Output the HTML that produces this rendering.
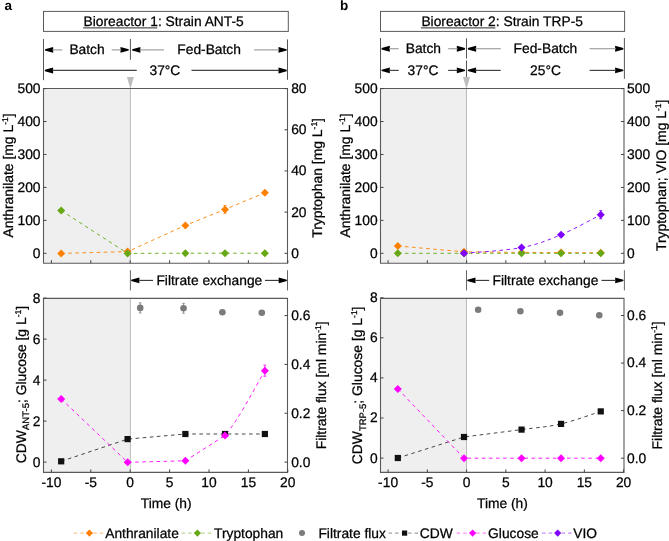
<!DOCTYPE html>
<html><head><meta charset="utf-8"><style>
html,body{margin:0;padding:0;background:#fff;width:669px;height:541px;overflow:hidden}
svg{display:block;will-change:transform}
text{font-family:"Liberation Sans",sans-serif;text-rendering:geometricPrecision;stroke:#000;stroke-width:0.25px;fill:#000}
</style></head><body>
<svg width="669" height="541" viewBox="0 0 669 541" font-family="Liberation Sans, sans-serif">
<rect width="669" height="541" fill="#fff"/>
<text x="4.5" y="10.4" font-size="13.5" text-anchor="start" fill="#111" font-weight="bold" style="stroke:none">a</text>
<rect x="43.5" y="11.4" width="244.8" height="20.0" fill="none" stroke="#5a5a5a" stroke-width="1"/>
<text x="83.5" y="25.8" font-size="13.8" text-anchor="start" fill="#111" >Bioreactor 1: Strain ANT-5</text>
<line x1="83.1" y1="27.9" x2="157.3" y2="27.9" stroke="#555" stroke-width="1.3" />
<line x1="43.5" y1="39.0" x2="43.5" y2="80.2" stroke="#555" stroke-width="1" />
<line x1="287.5" y1="39.4" x2="287.5" y2="79.8" stroke="#555" stroke-width="1" />
<line x1="130.4" y1="39" x2="130.4" y2="59.8" stroke="#555" stroke-width="1" />
<path d="M45.0,49.199999999999996 L53.2,46.949999999999996 L53.2,52.85 L45.0,50.6 Z" fill="#000"/>
<path d="M128.7,49.199999999999996 L120.49999999999999,46.949999999999996 L120.49999999999999,52.85 L128.7,50.6 Z" fill="#000"/>
<line x1="52.5" y1="49.9" x2="62.4" y2="49.9" stroke="#a0a0a0" stroke-width="1.2" />
<line x1="111.7" y1="49.9" x2="121.19999999999999" y2="49.9" stroke="#a0a0a0" stroke-width="1.2" />
<text x="69.4" y="54.2" font-size="13.8" text-anchor="start" fill="#111" >Batch</text>
<path d="M132.2,49.199999999999996 L140.39999999999998,46.949999999999996 L140.39999999999998,52.85 L132.2,50.6 Z" fill="#000"/>
<path d="M286.7,49.199999999999996 L278.5,46.949999999999996 L278.5,52.85 L286.7,50.6 Z" fill="#000"/>
<line x1="139.7" y1="49.9" x2="163.9" y2="49.9" stroke="#a0a0a0" stroke-width="1.2" />
<line x1="254.1" y1="49.9" x2="279.2" y2="49.9" stroke="#a0a0a0" stroke-width="1.2" />
<text x="177.3" y="54.2" font-size="13.8" text-anchor="start" fill="#111" >Fed-Batch</text>
<path d="M44.9,69.75 L53.099999999999994,67.5 L53.099999999999994,73.4 L44.9,71.15 Z" fill="#000"/>
<path d="M286.7,69.75 L278.5,67.5 L278.5,73.4 L286.7,71.15 Z" fill="#000"/>
<line x1="52.4" y1="70.45" x2="136.7" y2="70.45" stroke="#444" stroke-width="1.2" />
<line x1="191.5" y1="70.45" x2="279.2" y2="70.45" stroke="#444" stroke-width="1.2" />
<text x="149.5" y="74.5" font-size="13.8" text-anchor="start" fill="#111" >37°C</text>
<path d="M126.9,77.0 L133.9,77.0 L130.4,89.0 Z" fill="#bdbdbd"/>
<rect x="43.5" y="88.5" width="86.9" height="174.7" fill="#efefef"/>
<line x1="130.4" y1="88.5" x2="130.4" y2="263.2" stroke="#bbb" stroke-width="1" />
<path d="M43.5,88.5 L287.5,88.5 L287.5,263.2 L43.5,263.2 Z" fill="none" stroke="#5a5a5a" stroke-width="1.1"/>
<line x1="43.5" y1="253.3" x2="46.5" y2="253.3" stroke="#444" stroke-width="1" />
<text x="40.5" y="257.7" font-size="13.8" text-anchor="end" fill="#111" >0</text>
<line x1="43.5" y1="220.36" x2="46.5" y2="220.36" stroke="#444" stroke-width="1" />
<text x="40.5" y="224.76000000000002" font-size="13.8" text-anchor="end" fill="#111" >100</text>
<line x1="43.5" y1="187.42000000000002" x2="46.5" y2="187.42000000000002" stroke="#444" stroke-width="1" />
<text x="40.5" y="191.82000000000002" font-size="13.8" text-anchor="end" fill="#111" >200</text>
<line x1="43.5" y1="154.48000000000002" x2="46.5" y2="154.48000000000002" stroke="#444" stroke-width="1" />
<text x="40.5" y="158.88000000000002" font-size="13.8" text-anchor="end" fill="#111" >300</text>
<line x1="43.5" y1="121.53999999999999" x2="46.5" y2="121.53999999999999" stroke="#444" stroke-width="1" />
<text x="40.5" y="125.94" font-size="13.8" text-anchor="end" fill="#111" >400</text>
<line x1="43.5" y1="88.6" x2="46.5" y2="88.6" stroke="#444" stroke-width="1" />
<text x="40.5" y="93.0" font-size="13.8" text-anchor="end" fill="#111" >500</text>
<line x1="284.5" y1="253.3" x2="287.5" y2="253.3" stroke="#444" stroke-width="1" />
<text x="291.2" y="257.7" font-size="13.8" text-anchor="start" fill="#111" >0</text>
<line x1="284.5" y1="212.125" x2="287.5" y2="212.125" stroke="#444" stroke-width="1" />
<text x="291.2" y="216.525" font-size="13.8" text-anchor="start" fill="#111" >20</text>
<line x1="284.5" y1="170.95" x2="287.5" y2="170.95" stroke="#444" stroke-width="1" />
<text x="291.2" y="175.35" font-size="13.8" text-anchor="start" fill="#111" >40</text>
<line x1="284.5" y1="129.775" x2="287.5" y2="129.775" stroke="#444" stroke-width="1" />
<text x="291.2" y="134.175" font-size="13.8" text-anchor="start" fill="#111" >60</text>
<line x1="284.5" y1="88.6" x2="287.5" y2="88.6" stroke="#444" stroke-width="1" />
<text x="291.2" y="93.0" font-size="13.8" text-anchor="start" fill="#111" >80</text>
<line x1="51.39999999999999" y1="263.2" x2="51.39999999999999" y2="260.2" stroke="#444" stroke-width="1" />
<line x1="90.79999999999998" y1="263.2" x2="90.79999999999998" y2="260.2" stroke="#444" stroke-width="1" />
<line x1="130.2" y1="263.2" x2="130.2" y2="260.2" stroke="#444" stroke-width="1" />
<line x1="169.6" y1="263.2" x2="169.6" y2="260.2" stroke="#444" stroke-width="1" />
<line x1="209.0" y1="263.2" x2="209.0" y2="260.2" stroke="#444" stroke-width="1" />
<line x1="248.39999999999998" y1="263.2" x2="248.39999999999998" y2="260.2" stroke="#444" stroke-width="1" />
<line x1="287.79999999999995" y1="263.2" x2="287.79999999999995" y2="260.2" stroke="#444" stroke-width="1" />
<text transform="translate(13.3,237.6) rotate(-90)" font-size="13.9" fill="#111">Anthranilate [mg L<tspan dy="-5" font-size="8.5">-1</tspan><tspan dy="5">]</tspan></text>
<text transform="translate(322.2,237.8) rotate(-90)" font-size="13.9" fill="#111">Tryptophan [mg L<tspan dy="-5" font-size="8.5">-1</tspan><tspan dy="5">]</tspan></text>
<path d="M61.17,210.50 L127.60,253.40 L185.36,253.20 L225.00,253.20 L264.87,253.20" fill="none" stroke="#66a815" stroke-width="0.9" stroke-dasharray="3.6,3.5"/>
<path d="M61.17,253.40 L127.60,251.60 L185.36,225.40 L225.00,209.40 L264.87,192.80" fill="none" stroke="#ff8000" stroke-width="0.9" stroke-dasharray="3.6,3.5"/>
<path d="M61.171199999999985,249.4 L65.17119999999998,253.4 L61.171199999999985,257.4 L57.171199999999985,253.4 Z" fill="#ff8000"/>
<path d="M127.5996,247.6 L131.5996,251.6 L127.5996,255.6 L123.5996,251.6 Z" fill="#ff8000"/>
<path d="M185.35999999999999,221.4 L189.35999999999999,225.4 L185.35999999999999,229.4 L181.35999999999999,225.4 Z" fill="#ff8000"/>
<path d="M224.9964,205.4 L228.9964,209.4 L224.9964,213.4 L220.9964,209.4 Z" fill="#ff8000"/>
<path d="M264.8692,188.8 L268.8692,192.8 L264.8692,196.8 L260.8692,192.8 Z" fill="#ff8000"/>
<line x1="224.9964" y1="205.5" x2="224.9964" y2="213.3" stroke="#ff8000" stroke-width="0.8" />
<line x1="223.4964" y1="205.5" x2="226.4964" y2="205.5" stroke="#ff8000" stroke-width="0.8" />
<line x1="223.4964" y1="213.3" x2="226.4964" y2="213.3" stroke="#ff8000" stroke-width="0.8" />
<path d="M61.171199999999985,206.5 L65.17119999999998,210.5 L61.171199999999985,214.5 L57.171199999999985,210.5 Z" fill="#66a815"/>
<path d="M127.5996,249.4 L131.5996,253.4 L127.5996,257.4 L123.5996,253.4 Z" fill="#66a815"/>
<path d="M185.35999999999999,249.2 L189.35999999999999,253.2 L185.35999999999999,257.2 L181.35999999999999,253.2 Z" fill="#66a815"/>
<path d="M224.9964,249.2 L228.9964,253.2 L224.9964,257.2 L220.9964,253.2 Z" fill="#66a815"/>
<path d="M264.8692,249.2 L268.8692,253.2 L264.8692,257.2 L260.8692,253.2 Z" fill="#66a815"/>
<line x1="130.4" y1="270.2" x2="130.4" y2="290.4" stroke="#666" stroke-width="1" />
<line x1="287.5" y1="270.2" x2="287.5" y2="290.4" stroke="#666" stroke-width="1" />
<path d="M131.20000000000002,279.7 L139.4,277.45 L139.4,283.34999999999997 L131.20000000000002,281.09999999999997 Z" fill="#000"/>
<path d="M286.9,279.7 L278.7,277.45 L278.7,283.34999999999997 L286.9,281.09999999999997 Z" fill="#000"/>
<line x1="139.4" y1="280.4" x2="153.1" y2="280.4" stroke="#333" stroke-width="1.1" />
<line x1="265.0" y1="280.4" x2="279.0" y2="280.4" stroke="#333" stroke-width="1.1" />
<text x="156.4" y="285.0" font-size="13.8" text-anchor="start" fill="#111" >Filtrate exchange</text>
<rect x="43.5" y="298.4" width="86.9" height="174.0" fill="#efefef"/>
<line x1="130.4" y1="298.4" x2="130.4" y2="472.4" stroke="#bbb" stroke-width="1" />
<path d="M43.5,298.4 L287.5,298.4 L287.5,472.4 L43.5,472.4 Z" fill="none" stroke="#5a5a5a" stroke-width="1.1"/>
<line x1="43.5" y1="462.1" x2="46.5" y2="462.1" stroke="#444" stroke-width="1" />
<text x="40.5" y="466.5" font-size="13.8" text-anchor="end" fill="#111" >0</text>
<line x1="43.5" y1="421.1" x2="46.5" y2="421.1" stroke="#444" stroke-width="1" />
<text x="40.5" y="425.5" font-size="13.8" text-anchor="end" fill="#111" >2</text>
<line x1="43.5" y1="380.1" x2="46.5" y2="380.1" stroke="#444" stroke-width="1" />
<text x="40.5" y="384.5" font-size="13.8" text-anchor="end" fill="#111" >4</text>
<line x1="43.5" y1="339.1" x2="46.5" y2="339.1" stroke="#444" stroke-width="1" />
<text x="40.5" y="343.5" font-size="13.8" text-anchor="end" fill="#111" >6</text>
<line x1="43.5" y1="298.1" x2="46.5" y2="298.1" stroke="#444" stroke-width="1" />
<text x="40.5" y="302.5" font-size="13.8" text-anchor="end" fill="#111" >8</text>
<line x1="284.5" y1="462.1" x2="287.5" y2="462.1" stroke="#444" stroke-width="1" />
<text x="291.2" y="466.5" font-size="13.8" text-anchor="start" fill="#111" >0.0</text>
<line x1="284.5" y1="413.26" x2="287.5" y2="413.26" stroke="#444" stroke-width="1" />
<text x="291.2" y="417.65999999999997" font-size="13.8" text-anchor="start" fill="#111" >0.2</text>
<line x1="284.5" y1="364.42" x2="287.5" y2="364.42" stroke="#444" stroke-width="1" />
<text x="291.2" y="368.82" font-size="13.8" text-anchor="start" fill="#111" >0.4</text>
<line x1="284.5" y1="315.58000000000004" x2="287.5" y2="315.58000000000004" stroke="#444" stroke-width="1" />
<text x="291.2" y="319.98" font-size="13.8" text-anchor="start" fill="#111" >0.6</text>
<line x1="51.39999999999999" y1="472.4" x2="51.39999999999999" y2="469.4" stroke="#444" stroke-width="1" />
<text x="51.39999999999999" y="486.8" font-size="13.8" text-anchor="middle" fill="#111" >-10</text>
<line x1="90.79999999999998" y1="472.4" x2="90.79999999999998" y2="469.4" stroke="#444" stroke-width="1" />
<text x="90.79999999999998" y="486.8" font-size="13.8" text-anchor="middle" fill="#111" >-5</text>
<line x1="130.2" y1="472.4" x2="130.2" y2="469.4" stroke="#444" stroke-width="1" />
<text x="130.2" y="486.8" font-size="13.8" text-anchor="middle" fill="#111" >0</text>
<line x1="169.6" y1="472.4" x2="169.6" y2="469.4" stroke="#444" stroke-width="1" />
<text x="169.6" y="486.8" font-size="13.8" text-anchor="middle" fill="#111" >5</text>
<line x1="209.0" y1="472.4" x2="209.0" y2="469.4" stroke="#444" stroke-width="1" />
<text x="209.0" y="486.8" font-size="13.8" text-anchor="middle" fill="#111" >10</text>
<line x1="248.39999999999998" y1="472.4" x2="248.39999999999998" y2="469.4" stroke="#444" stroke-width="1" />
<text x="248.39999999999998" y="486.8" font-size="13.8" text-anchor="middle" fill="#111" >15</text>
<line x1="287.79999999999995" y1="472.4" x2="287.79999999999995" y2="469.4" stroke="#444" stroke-width="1" />
<text x="287.79999999999995" y="486.8" font-size="13.8" text-anchor="middle" fill="#111" >20</text>
<text x="166.16" y="507.6" font-size="13.8" text-anchor="middle" fill="#111" >Time (h)</text>
<text transform="translate(25.9,463.2) rotate(-90)" font-size="13.9" fill="#111">CDW<tspan dy="3.5" font-size="9.5">ANT-5</tspan><tspan dy="-3.5">; Glucose [g L</tspan><tspan dy="-5" font-size="8.5">-1</tspan><tspan dy="5">]</tspan></text>
<text transform="translate(325.6,449.3) rotate(-90)" font-size="13.9" fill="#111">Filtrate flux [ml min<tspan dy="-5" font-size="8.5">-1</tspan><tspan dy="5">]</tspan></text>
<path d="M61.17,461.30 L127.60,439.10 L185.36,434.00 L225.00,434.00 L264.87,434.00" fill="none" stroke="#333" stroke-width="0.9" stroke-dasharray="3.6,3.5"/>
<path d="M61.17,398.90 L127.60,462.30 L185.36,460.80 L225.00,435.50 C238.25,420.50 258.22,381.58 264.87,370.80" fill="none" stroke="#ff00ff" stroke-width="0.9" stroke-dasharray="3.6,3.5"/>
<rect x="58.07119999999998" y="458.2" width="6.2" height="6.2" fill="#111"/>
<rect x="124.4996" y="436.0" width="6.2" height="6.2" fill="#111"/>
<rect x="182.26" y="430.9" width="6.2" height="6.2" fill="#111"/>
<rect x="221.8964" y="430.9" width="6.2" height="6.2" fill="#111"/>
<rect x="261.76919999999996" y="430.9" width="6.2" height="6.2" fill="#111"/>
<path d="M61.171199999999985,394.9 L65.17119999999998,398.9 L61.171199999999985,402.9 L57.171199999999985,398.9 Z" fill="#ff00ff"/>
<path d="M127.5996,458.3 L131.5996,462.3 L127.5996,466.3 L123.5996,462.3 Z" fill="#ff00ff"/>
<path d="M185.35999999999999,456.8 L189.35999999999999,460.8 L185.35999999999999,464.8 L181.35999999999999,460.8 Z" fill="#ff00ff"/>
<path d="M224.9964,431.5 L228.9964,435.5 L224.9964,439.5 L220.9964,435.5 Z" fill="#ff00ff"/>
<path d="M264.8692,366.8 L268.8692,370.8 L264.8692,374.8 L260.8692,370.8 Z" fill="#ff00ff"/>
<line x1="264.8692" y1="365.2" x2="264.8692" y2="376.2" stroke="#ff00ff" stroke-width="0.8" />
<line x1="263.3692" y1="365.2" x2="266.3692" y2="365.2" stroke="#ff00ff" stroke-width="0.8" />
<line x1="263.3692" y1="376.2" x2="266.3692" y2="376.2" stroke="#ff00ff" stroke-width="0.8" />
<circle cx="140.20759999999999" cy="307.9" r="3.3" fill="#7b7b7b"/>
<circle cx="183.5476" cy="308.3" r="3.3" fill="#7b7b7b"/>
<circle cx="222.396" cy="312.2" r="3.3" fill="#7b7b7b"/>
<circle cx="261.796" cy="312.8" r="3.3" fill="#7b7b7b"/>
<line x1="140.20759999999999" y1="302.8" x2="140.20759999999999" y2="313.0" stroke="#7b7b7b" stroke-width="0.8" />
<line x1="138.95759999999999" y1="302.8" x2="141.45759999999999" y2="302.8" stroke="#7b7b7b" stroke-width="0.8" />
<line x1="138.95759999999999" y1="313.0" x2="141.45759999999999" y2="313.0" stroke="#7b7b7b" stroke-width="0.8" />
<line x1="183.5476" y1="303.4" x2="183.5476" y2="313.2" stroke="#7b7b7b" stroke-width="0.8" />
<line x1="182.2976" y1="303.4" x2="184.7976" y2="303.4" stroke="#7b7b7b" stroke-width="0.8" />
<line x1="182.2976" y1="313.2" x2="184.7976" y2="313.2" stroke="#7b7b7b" stroke-width="0.8" />
<text x="339.9" y="10.4" font-size="13.5" text-anchor="start" fill="#111" font-weight="bold" style="stroke:none">b</text>
<rect x="380.5" y="11.4" width="244.1" height="20.0" fill="none" stroke="#5a5a5a" stroke-width="1"/>
<text x="421.4" y="25.8" font-size="13.8" text-anchor="start" fill="#111" >Bioreactor 2: Strain TRP-5</text>
<line x1="421.0" y1="27.9" x2="495.4" y2="27.9" stroke="#555" stroke-width="1.3" />
<line x1="380.5" y1="38.0" x2="380.5" y2="78.8" stroke="#555" stroke-width="1" />
<line x1="624.4" y1="38.0" x2="624.4" y2="78.8" stroke="#555" stroke-width="1" />
<line x1="466.5" y1="38.3" x2="466.5" y2="58.5" stroke="#555" stroke-width="1" />
<line x1="466.5" y1="60.5" x2="466.5" y2="77" stroke="#555" stroke-width="1" />
<path d="M381.6,48.0 L389.8,45.75 L389.8,51.650000000000006 L381.6,49.400000000000006 Z" fill="#000"/>
<path d="M465.0,48.0 L456.8,45.75 L456.8,51.650000000000006 L465.0,49.400000000000006 Z" fill="#000"/>
<line x1="389.1" y1="48.7" x2="398.7" y2="48.7" stroke="#a0a0a0" stroke-width="1.2" />
<line x1="448.2" y1="48.7" x2="457.5" y2="48.7" stroke="#a0a0a0" stroke-width="1.2" />
<text x="405.7" y="53.0" font-size="13.8" text-anchor="start" fill="#111" >Batch</text>
<path d="M467.9,48.0 L476.09999999999997,45.75 L476.09999999999997,51.650000000000006 L467.9,49.400000000000006 Z" fill="#000"/>
<path d="M623.3,48.0 L615.0999999999999,45.75 L615.0999999999999,51.650000000000006 L623.3,49.400000000000006 Z" fill="#000"/>
<line x1="475.4" y1="48.7" x2="500.7" y2="48.7" stroke="#a0a0a0" stroke-width="1.2" />
<line x1="589.6" y1="48.7" x2="615.8" y2="48.7" stroke="#a0a0a0" stroke-width="1.2" />
<text x="513.6" y="53.0" font-size="13.8" text-anchor="start" fill="#111" >Fed-Batch</text>
<path d="M381.6,69.7 L389.8,67.45 L389.8,73.35000000000001 L381.6,71.10000000000001 Z" fill="#000"/>
<path d="M465.0,69.7 L456.8,67.45 L456.8,73.35000000000001 L465.0,71.10000000000001 Z" fill="#000"/>
<line x1="389.1" y1="70.4" x2="398.7" y2="70.4" stroke="#444" stroke-width="1.2" />
<line x1="448.2" y1="70.4" x2="457.5" y2="70.4" stroke="#444" stroke-width="1.2" />
<text x="407.6" y="74.6" font-size="13.8" text-anchor="start" fill="#111" >37°C</text>
<path d="M467.9,69.7 L476.09999999999997,67.45 L476.09999999999997,73.35000000000001 L467.9,71.10000000000001 Z" fill="#000"/>
<path d="M623.3,69.7 L615.0999999999999,67.45 L615.0999999999999,73.35000000000001 L623.3,71.10000000000001 Z" fill="#000"/>
<line x1="475.4" y1="70.4" x2="500.7" y2="70.4" stroke="#444" stroke-width="1.2" />
<line x1="589.6" y1="70.4" x2="615.8" y2="70.4" stroke="#444" stroke-width="1.2" />
<text x="530.1" y="74.6" font-size="13.8" text-anchor="start" fill="#111" >25°C</text>
<path d="M463.0,77.0 L470.0,77.0 L466.5,89.0 Z" fill="#bdbdbd"/>
<rect x="380.5" y="88.5" width="86.0" height="174.7" fill="#efefef"/>
<line x1="466.5" y1="88.5" x2="466.5" y2="263.2" stroke="#bbb" stroke-width="1" />
<path d="M380.5,88.5 L624.0,88.5 L624.0,263.2 L380.5,263.2 Z" fill="none" stroke="#5a5a5a" stroke-width="1.1"/>
<line x1="380.5" y1="253.3" x2="383.5" y2="253.3" stroke="#444" stroke-width="1" />
<text x="377.6" y="257.7" font-size="13.8" text-anchor="end" fill="#111" >0</text>
<line x1="380.5" y1="220.36" x2="383.5" y2="220.36" stroke="#444" stroke-width="1" />
<text x="377.6" y="224.76000000000002" font-size="13.8" text-anchor="end" fill="#111" >100</text>
<line x1="380.5" y1="187.42000000000002" x2="383.5" y2="187.42000000000002" stroke="#444" stroke-width="1" />
<text x="377.6" y="191.82000000000002" font-size="13.8" text-anchor="end" fill="#111" >200</text>
<line x1="380.5" y1="154.48000000000002" x2="383.5" y2="154.48000000000002" stroke="#444" stroke-width="1" />
<text x="377.6" y="158.88000000000002" font-size="13.8" text-anchor="end" fill="#111" >300</text>
<line x1="380.5" y1="121.53999999999999" x2="383.5" y2="121.53999999999999" stroke="#444" stroke-width="1" />
<text x="377.6" y="125.94" font-size="13.8" text-anchor="end" fill="#111" >400</text>
<line x1="380.5" y1="88.6" x2="383.5" y2="88.6" stroke="#444" stroke-width="1" />
<text x="377.6" y="93.0" font-size="13.8" text-anchor="end" fill="#111" >500</text>
<line x1="621.0" y1="253.3" x2="624.0" y2="253.3" stroke="#444" stroke-width="1" />
<text x="627.1" y="257.7" font-size="13.8" text-anchor="start" fill="#111" >0</text>
<line x1="621.0" y1="220.36" x2="624.0" y2="220.36" stroke="#444" stroke-width="1" />
<text x="627.1" y="224.76000000000002" font-size="13.8" text-anchor="start" fill="#111" >100</text>
<line x1="621.0" y1="187.42000000000002" x2="624.0" y2="187.42000000000002" stroke="#444" stroke-width="1" />
<text x="627.1" y="191.82000000000002" font-size="13.8" text-anchor="start" fill="#111" >200</text>
<line x1="621.0" y1="154.48000000000002" x2="624.0" y2="154.48000000000002" stroke="#444" stroke-width="1" />
<text x="627.1" y="158.88000000000002" font-size="13.8" text-anchor="start" fill="#111" >300</text>
<line x1="621.0" y1="121.53999999999999" x2="624.0" y2="121.53999999999999" stroke="#444" stroke-width="1" />
<text x="627.1" y="125.94" font-size="13.8" text-anchor="start" fill="#111" >400</text>
<line x1="621.0" y1="88.6" x2="624.0" y2="88.6" stroke="#444" stroke-width="1" />
<text x="627.1" y="93.0" font-size="13.8" text-anchor="start" fill="#111" >500</text>
<line x1="388.1" y1="263.2" x2="388.1" y2="260.2" stroke="#444" stroke-width="1" />
<line x1="427.35" y1="263.2" x2="427.35" y2="260.2" stroke="#444" stroke-width="1" />
<line x1="466.6" y1="263.2" x2="466.6" y2="260.2" stroke="#444" stroke-width="1" />
<line x1="505.85" y1="263.2" x2="505.85" y2="260.2" stroke="#444" stroke-width="1" />
<line x1="545.1" y1="263.2" x2="545.1" y2="260.2" stroke="#444" stroke-width="1" />
<line x1="584.35" y1="263.2" x2="584.35" y2="260.2" stroke="#444" stroke-width="1" />
<line x1="623.6" y1="263.2" x2="623.6" y2="260.2" stroke="#444" stroke-width="1" />
<text transform="translate(349.6,237.6) rotate(-90)" font-size="13.9" fill="#111">Anthranilate [mg L<tspan dy="-5" font-size="8.5">-1</tspan><tspan dy="5">]</tspan></text>
<text transform="translate(666.3,251.0) rotate(-90)" font-size="13.9" fill="#111">Tryptophan; VIO [mg L<tspan dy="-5" font-size="8.5">-1</tspan><tspan dy="5">]</tspan></text>
<path d="M397.83,246.00 L464.01,251.80 L521.55,252.40 L561.04,252.60 L600.76,252.80" fill="none" stroke="#ff8000" stroke-width="0.9" stroke-dasharray="3.6,3.5"/>
<path d="M397.83,253.30 L464.01,253.30 L521.55,253.30 L561.04,253.30 L600.76,253.30" fill="none" stroke="#66a815" stroke-width="0.9" stroke-dasharray="3.6,3.5"/>
<path d="M464.01,253.30 C473.60,252.35 505.38,250.70 521.55,247.60 C537.72,244.50 547.83,240.18 561.04,234.70 C574.24,229.22 594.14,218.03 600.76,214.70" fill="none" stroke="#8000ff" stroke-width="0.9" stroke-dasharray="3.6,3.5"/>
<path d="M397.83400000000006,242.0 L401.83400000000006,246.0 L397.83400000000006,250.0 L393.83400000000006,246.0 Z" fill="#ff8000"/>
<path d="M464.0095,247.8 L468.0095,251.8 L464.0095,255.8 L460.0095,251.8 Z" fill="#ff8000"/>
<path d="M521.5500000000001,248.4 L525.5500000000001,252.4 L521.5500000000001,256.4 L517.5500000000001,252.4 Z" fill="#ff8000"/>
<path d="M561.0355,248.6 L565.0355,252.6 L561.0355,256.6 L557.0355,252.6 Z" fill="#ff8000"/>
<path d="M600.7565,248.8 L604.7565,252.8 L600.7565,256.8 L596.7565,252.8 Z" fill="#ff8000"/>
<path d="M397.83400000000006,249.3 L401.83400000000006,253.3 L397.83400000000006,257.3 L393.83400000000006,253.3 Z" fill="#66a815"/>
<path d="M464.0095,249.3 L468.0095,253.3 L464.0095,257.3 L460.0095,253.3 Z" fill="#66a815"/>
<path d="M521.5500000000001,249.3 L525.5500000000001,253.3 L521.5500000000001,257.3 L517.5500000000001,253.3 Z" fill="#66a815"/>
<path d="M561.0355,249.3 L565.0355,253.3 L561.0355,257.3 L557.0355,253.3 Z" fill="#66a815"/>
<path d="M600.7565,249.3 L604.7565,253.3 L600.7565,257.3 L596.7565,253.3 Z" fill="#66a815"/>
<line x1="600.7565" y1="210.6" x2="600.7565" y2="218.8" stroke="#8000ff" stroke-width="0.8" />
<line x1="599.2565" y1="210.6" x2="602.2565" y2="210.6" stroke="#8000ff" stroke-width="0.8" />
<line x1="599.2565" y1="218.8" x2="602.2565" y2="218.8" stroke="#8000ff" stroke-width="0.8" />
<path d="M464.0095,249.3 L468.0095,253.3 L464.0095,257.3 L460.0095,253.3 Z" fill="#8000ff"/>
<path d="M521.5500000000001,243.6 L525.5500000000001,247.6 L521.5500000000001,251.6 L517.5500000000001,247.6 Z" fill="#8000ff"/>
<path d="M561.0355,230.7 L565.0355,234.7 L561.0355,238.7 L557.0355,234.7 Z" fill="#8000ff"/>
<path d="M600.7565,210.7 L604.7565,214.7 L600.7565,218.7 L596.7565,214.7 Z" fill="#8000ff"/>
<line x1="466.5" y1="270.2" x2="466.5" y2="290.4" stroke="#666" stroke-width="1" />
<line x1="624.4" y1="270.2" x2="624.4" y2="290.4" stroke="#666" stroke-width="1" />
<path d="M467.3,279.7 L475.5,277.45 L475.5,283.34999999999997 L467.3,281.09999999999997 Z" fill="#000"/>
<path d="M623.4,279.7 L615.1999999999999,277.45 L615.1999999999999,283.34999999999997 L623.4,281.09999999999997 Z" fill="#000"/>
<line x1="475.5" y1="280.4" x2="489.2" y2="280.4" stroke="#333" stroke-width="1.1" />
<line x1="601.5" y1="280.4" x2="615.5" y2="280.4" stroke="#333" stroke-width="1.1" />
<text x="492.5" y="285.0" font-size="13.8" text-anchor="start" fill="#111" >Filtrate exchange</text>
<rect x="380.5" y="298.4" width="86.0" height="174.0" fill="#efefef"/>
<line x1="466.5" y1="298.4" x2="466.5" y2="472.4" stroke="#bbb" stroke-width="1" />
<path d="M380.5,298.4 L624.0,298.4 L624.0,472.4 L380.5,472.4 Z" fill="none" stroke="#5a5a5a" stroke-width="1.1"/>
<line x1="380.5" y1="458.1" x2="383.5" y2="458.1" stroke="#444" stroke-width="1" />
<text x="377.6" y="462.5" font-size="13.8" text-anchor="end" fill="#111" >0</text>
<line x1="380.5" y1="418.0" x2="383.5" y2="418.0" stroke="#444" stroke-width="1" />
<text x="377.6" y="422.4" font-size="13.8" text-anchor="end" fill="#111" >2</text>
<line x1="380.5" y1="377.90000000000003" x2="383.5" y2="377.90000000000003" stroke="#444" stroke-width="1" />
<text x="377.6" y="382.3" font-size="13.8" text-anchor="end" fill="#111" >4</text>
<line x1="380.5" y1="337.8" x2="383.5" y2="337.8" stroke="#444" stroke-width="1" />
<text x="377.6" y="342.2" font-size="13.8" text-anchor="end" fill="#111" >6</text>
<line x1="380.5" y1="297.70000000000005" x2="383.5" y2="297.70000000000005" stroke="#444" stroke-width="1" />
<text x="377.6" y="302.1" font-size="13.8" text-anchor="end" fill="#111" >8</text>
<line x1="621.0" y1="458.2" x2="624.0" y2="458.2" stroke="#444" stroke-width="1" />
<text x="627.1" y="462.59999999999997" font-size="13.8" text-anchor="start" fill="#111" >0.0</text>
<line x1="621.0" y1="410.64" x2="624.0" y2="410.64" stroke="#444" stroke-width="1" />
<text x="627.1" y="415.03999999999996" font-size="13.8" text-anchor="start" fill="#111" >0.2</text>
<line x1="621.0" y1="363.08" x2="624.0" y2="363.08" stroke="#444" stroke-width="1" />
<text x="627.1" y="367.47999999999996" font-size="13.8" text-anchor="start" fill="#111" >0.4</text>
<line x1="621.0" y1="315.52" x2="624.0" y2="315.52" stroke="#444" stroke-width="1" />
<text x="627.1" y="319.91999999999996" font-size="13.8" text-anchor="start" fill="#111" >0.6</text>
<line x1="388.1" y1="472.4" x2="388.1" y2="469.4" stroke="#444" stroke-width="1" />
<text x="388.1" y="486.8" font-size="13.8" text-anchor="middle" fill="#111" >-10</text>
<line x1="427.35" y1="472.4" x2="427.35" y2="469.4" stroke="#444" stroke-width="1" />
<text x="427.35" y="486.8" font-size="13.8" text-anchor="middle" fill="#111" >-5</text>
<line x1="466.6" y1="472.4" x2="466.6" y2="469.4" stroke="#444" stroke-width="1" />
<text x="466.6" y="486.8" font-size="13.8" text-anchor="middle" fill="#111" >0</text>
<line x1="505.85" y1="472.4" x2="505.85" y2="469.4" stroke="#444" stroke-width="1" />
<text x="505.85" y="486.8" font-size="13.8" text-anchor="middle" fill="#111" >5</text>
<line x1="545.1" y1="472.4" x2="545.1" y2="469.4" stroke="#444" stroke-width="1" />
<text x="545.1" y="486.8" font-size="13.8" text-anchor="middle" fill="#111" >10</text>
<line x1="584.35" y1="472.4" x2="584.35" y2="469.4" stroke="#444" stroke-width="1" />
<text x="584.35" y="486.8" font-size="13.8" text-anchor="middle" fill="#111" >15</text>
<line x1="623.6" y1="472.4" x2="623.6" y2="469.4" stroke="#444" stroke-width="1" />
<text x="623.6" y="486.8" font-size="13.8" text-anchor="middle" fill="#111" >20</text>
<text x="502.425" y="507.6" font-size="13.8" text-anchor="middle" fill="#111" >Time (h)</text>
<text transform="translate(362.3,464.3) rotate(-90)" font-size="13.9" fill="#111">CDW<tspan dy="3.5" font-size="9.5">TRP-5</tspan><tspan dy="-3.5">; Glucose [g L</tspan><tspan dy="-5" font-size="8.5">-1</tspan><tspan dy="5">]</tspan></text>
<text transform="translate(661.5,449.4) rotate(-90)" font-size="13.9" fill="#111">Filtrate flux [ml min<tspan dy="-5" font-size="8.5">-1</tspan><tspan dy="5">]</tspan></text>
<path d="M397.83,458.00 L464.01,437.00 L521.55,429.60 C537.72,427.42 547.83,426.93 561.04,423.90 C574.24,420.87 594.14,413.48 600.76,411.40" fill="none" stroke="#333" stroke-width="0.9" stroke-dasharray="3.6,3.5"/>
<path d="M397.83,388.90 L464.01,458.20 L521.55,458.20 L561.04,458.20 L600.76,458.20" fill="none" stroke="#ff00ff" stroke-width="0.9" stroke-dasharray="3.6,3.5"/>
<rect x="394.73400000000004" y="454.9" width="6.2" height="6.2" fill="#111"/>
<rect x="460.9095" y="433.9" width="6.2" height="6.2" fill="#111"/>
<rect x="518.45" y="426.5" width="6.2" height="6.2" fill="#111"/>
<rect x="557.9354999999999" y="420.79999999999995" width="6.2" height="6.2" fill="#111"/>
<rect x="597.6564999999999" y="408.29999999999995" width="6.2" height="6.2" fill="#111"/>
<path d="M397.83400000000006,384.9 L401.83400000000006,388.9 L397.83400000000006,392.9 L393.83400000000006,388.9 Z" fill="#ff00ff"/>
<path d="M464.0095,454.2 L468.0095,458.2 L464.0095,462.2 L460.0095,458.2 Z" fill="#ff00ff"/>
<path d="M521.5500000000001,454.2 L525.5500000000001,458.2 L521.5500000000001,462.2 L517.5500000000001,458.2 Z" fill="#ff00ff"/>
<path d="M561.0355,454.2 L565.0355,458.2 L561.0355,462.2 L557.0355,458.2 Z" fill="#ff00ff"/>
<path d="M600.7565,454.2 L604.7565,458.2 L600.7565,462.2 L596.7565,458.2 Z" fill="#ff00ff"/>
<circle cx="478.1395" cy="309.7" r="3.3" fill="#7b7b7b"/>
<circle cx="520.3725000000001" cy="311.2" r="3.3" fill="#7b7b7b"/>
<circle cx="560.015" cy="312.8" r="3.3" fill="#7b7b7b"/>
<circle cx="599.265" cy="315.2" r="3.3" fill="#7b7b7b"/>
<line x1="73.7" y1="533.1" x2="103.6" y2="533.1" stroke="#ff8000" stroke-width="1.1" stroke-dasharray="3.5,3" opacity="0.45"/>
<path d="M89.4,529.5 L93.0,533.1 L89.4,536.7 L85.80000000000001,533.1 Z" fill="#ff8000"/>
<text x="105.2" y="537.6" font-size="13.8" text-anchor="start" fill="#111" >Anthranilate</text>
<line x1="181.7" y1="533.1" x2="211.6" y2="533.1" stroke="#66a815" stroke-width="1.1" stroke-dasharray="3.5,3" opacity="0.45"/>
<path d="M197.4,529.5 L201.0,533.1 L197.4,536.7 L193.8,533.1 Z" fill="#66a815"/>
<text x="214.0" y="537.6" font-size="13.8" text-anchor="start" fill="#111" >Tryptophan</text>
<circle cx="302.0" cy="533.1" r="3.0" fill="#7b7b7b"/>
<text x="318.4" y="537.6" font-size="13.8" text-anchor="start" fill="#111" >Filtrate flux</text>
<line x1="388.6" y1="533.1" x2="418.0" y2="533.1" stroke="#333" stroke-width="1.1" stroke-dasharray="3.5,3" opacity="0.45"/>
<rect x="402.0" y="530.5" width="5.2" height="5.2" fill="#111"/>
<text x="419.8" y="537.6" font-size="13.8" text-anchor="start" fill="#111" >CDW</text>
<line x1="456.6" y1="533.1" x2="486.0" y2="533.1" stroke="#ff00ff" stroke-width="1.1" stroke-dasharray="3.5,3" opacity="0.45"/>
<path d="M472.6,529.5 L476.20000000000005,533.1 L472.6,536.7 L469.0,533.1 Z" fill="#ff00ff"/>
<text x="488.1" y="537.6" font-size="13.8" text-anchor="start" fill="#111" >Glucose</text>
<line x1="542.1" y1="533.1" x2="571.6" y2="533.1" stroke="#8000ff" stroke-width="1.1" stroke-dasharray="3.5,3" opacity="0.45"/>
<path d="M557.7,529.5 L561.3000000000001,533.1 L557.7,536.7 L554.1,533.1 Z" fill="#8000ff"/>
<text x="573.2" y="537.6" font-size="13.8" text-anchor="start" fill="#111" >VIO</text>
</svg>
</body></html>
